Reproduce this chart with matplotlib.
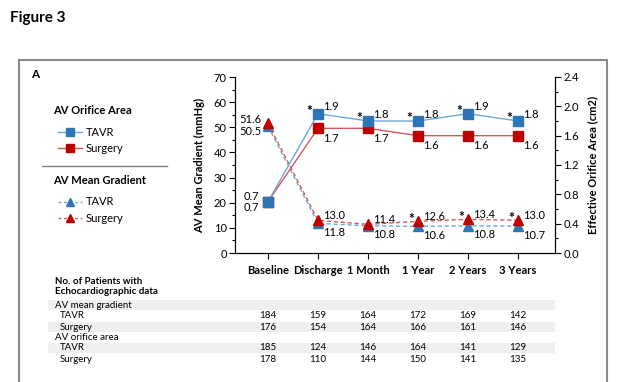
import matplotlib
matplotlib.use("Agg")
import matplotlib.pyplot as plt
from matplotlib.lines import Line2D
from matplotlib.patches import Rectangle
from matplotlib.ticker import MultipleLocator, FormatStrFormatter
import matplotlib.transforms as mtransforms
import numpy as np

plt.rcParams['font.family'] = ['Lato', 'DejaVu Sans']

# data
timepoints = ["Baseline", "Discharge", "1 Month", "1 Year", "2 Years", "3 Years"]
area_tavr = [0.7, 1.9, 1.8, 1.8, 1.9, 1.8]
area_surgery = [0.7, 1.7, 1.7, 1.6, 1.6, 1.6]
grad_tavr = [50.5, 11.8, 10.8, 10.6, 10.8, 10.7]
grad_surgery = [51.6, 13.0, 11.4, 12.6, 13.4, 13.0]
area_star = [False, True, True, True, True, True]
grad_star = [False, False, False, True, True, True]

n_grad_tavr = [184, 159, 164, 172, 169, 142]
n_grad_surgery = [176, 154, 164, 166, 161, 146]
n_area_tavr = [185, 124, 146, 164, 141, 129]
n_area_surgery = [178, 110, 144, 150, 141, 135]

blue = "#2e75b6"
blue_line = "#6fa8dc"
red = "#c00000"
red_line = "#d05a5a"

W, H = 624, 382
fig = plt.figure(figsize=(W / 100, H / 100), dpi=100)

def fx(px):
    return px / W

def fy(py):
    return 1 - py / H

ax = fig.add_axes([fx(235), fy(253), fx(555) - fx(235), fy(77) - fy(253)])
ax2 = ax.twinx()
x = np.arange(len(timepoints))

# gradient (left axis)
ax.plot(x, grad_tavr, ls=(0, (3, 2)), color=blue_line, lw=1, marker="^", ms=6.5,
        mfc=blue, mec=blue, zorder=3)
ax.plot(x, grad_surgery, ls=(0, (3, 2)), color=red_line, lw=1, marker="^", ms=7,
        mfc=red, mec=red, zorder=4)
# orifice area (right axis)
ax2.plot(x, area_surgery, color=red_line, lw=1, marker="s", ms=7.5, mfc=red, mec=red, zorder=3)
ax2.plot(x, area_tavr, color=blue_line, lw=1, marker="s", ms=7.5, mfc=blue, mec=blue, zorder=4)

ax.set_xlim(-0.66, 5.74)
ax.set_ylim(0, 70)
ax2.set_ylim(0, 2.4)
ax.yaxis.set_major_locator(MultipleLocator(10))
ax.yaxis.set_minor_locator(MultipleLocator(5))
ax2.yaxis.set_major_locator(MultipleLocator(0.4))
ax2.yaxis.set_minor_locator(MultipleLocator(0.2))
ax2.yaxis.set_major_formatter(FormatStrFormatter("%.1f"))
ax.set_xticks(x)
ax.set_xticklabels(timepoints, fontweight="bold", fontsize=8)
for a in (ax, ax2):
    a.spines["top"].set_visible(False)
    a.tick_params(axis="both", which="major", length=4, width=0.8, labelsize=8, pad=2)
    a.tick_params(axis="y", which="minor", length=2.5, width=0.8)
ax.tick_params(axis="x", pad=5)
ax.set_ylabel("AV Mean Gradient (mmHg)", fontweight="bold", fontsize=8, labelpad=6)
ax2.set_ylabel("Effective Orifice Area (cm2)", fontweight="bold", fontsize=8, labelpad=6)

fs = 8

def label(a, xv, yv, txt, dx, dy, ha="left", size=fs, weight="normal"):
    a.annotate(txt, (xv, yv), xytext=(dx, dy), textcoords="offset pixels",
               ha=ha, va="center", fontsize=size, fontweight=weight)

for i in range(len(x)):
    if i == 0:
        label(ax2, x[i], area_tavr[i], f"{area_tavr[i]:.1f}", -9, 5, "right")
        label(ax2, x[i], area_surgery[i], f"{area_surgery[i]:.1f}", -9, -6, "right")
        label(ax, x[i], grad_surgery[i], f"{grad_surgery[i]:.1f}", -7, 4, "right")
        label(ax, x[i], grad_tavr[i], f"{grad_tavr[i]:.1f}", -7, -5, "right")
        continue
    label(ax2, x[i], area_tavr[i], f"{area_tavr[i]:.1f}", 5, 7)
    label(ax2, x[i], area_surgery[i], f"{area_surgery[i]:.1f}", 5, -10)
    label(ax, x[i], grad_surgery[i], f"{grad_surgery[i]:.1f}", 5, 5)
    label(ax, x[i], grad_tavr[i], f"{grad_tavr[i]:.1f}", 5, -9)
    if area_star[i]:
        label(ax2, x[i], area_tavr[i], "*", -9, 3, "center", 10, "bold")
    if grad_star[i]:
        label(ax, x[i], grad_surgery[i], "*", -7, 2, "center", 10, "bold")

# title and frame
fig.text(fx(10), fy(18), "Figure 3", fontweight="bold", fontsize=11, va="center", ha="left")
fig.patches.append(Rectangle((fx(19), fy(400)), fx(607) - fx(19), fy(60) - fy(400),
                             transform=fig.transFigure, fill=False, edgecolor="#8a8a8a", lw=1.5))
fig.text(fx(31), fy(75), "A", fontweight="bold", fontsize=8.5, va="center")

# legend drawn by hand
fig.text(fx(53), fy(110), "AV Orifice Area", fontweight="bold", fontsize=8, va="center")
fig.text(fx(53), fy(181), "AV Mean Gradient", fontweight="bold", fontsize=8, va="center")
fig.lines.append(Line2D([fx(42), fx(167)], [fy(166), fy(166)], transform=fig.transFigure,
                        color="#808080", lw=1))
leg = [(132, "s", "-", blue_line, blue, "TAVR"), (148, "s", "-", red_line, red, "Surgery"),
       (202, "^", (0, (2, 2)), blue_line, blue, "TAVR"), (218, "^", (0, (2, 2)), red_line, red, "Surgery")]
for py, mk, ls, lc, mc, lab in leg:
    fig.lines.append(Line2D([fx(58), fx(82)], [fy(py), fy(py)], transform=fig.transFigure,
                            color=lc, lw=1, ls=ls))
    fig.lines.append(Line2D([fx(70)], [fy(py)], transform=fig.transFigure, marker=mk,
                            ms=6, mfc=mc, mec=mc, ls="none"))
    fig.text(fx(86), fy(py), lab, fontsize=8, va="center")

# patient table
fig.text(fx(55), fy(281), "No. of Patients with", fontweight="bold", fontsize=7, va="center")
fig.text(fx(55), fy(292), "Echocardiographic data", fontweight="bold", fontsize=7, va="center")
for py in (305, 327, 348):
    fig.patches.append(Rectangle((fx(48), fy(py + 5)), fx(555) - fx(48), fy(py - 5) - fy(py + 5),
                                 transform=fig.transFigure, color="#efefef", lw=0, zorder=0))
trans = mtransforms.blended_transform_factory(ax.transData, fig.transFigure)
rows = [(305, "AV mean gradient", 55, None), (316, "TAVR", 60, n_grad_tavr),
        (327, "Surgery", 60, n_grad_surgery), (338, "AV orifice area", 55, None),
        (348, "TAVR", 60, n_area_tavr), (359, "Surgery", 60, n_area_surgery)]
for py, lab, px, vals in rows:
    fig.text(fx(px), fy(py), lab, fontsize=7, va="center")
    if vals is not None:
        for i, v in enumerate(vals):
            fig.text(x[i], fy(py), str(v), fontsize=7, va="center", ha="center", transform=trans)

fig.savefig("out.png", dpi=100)
